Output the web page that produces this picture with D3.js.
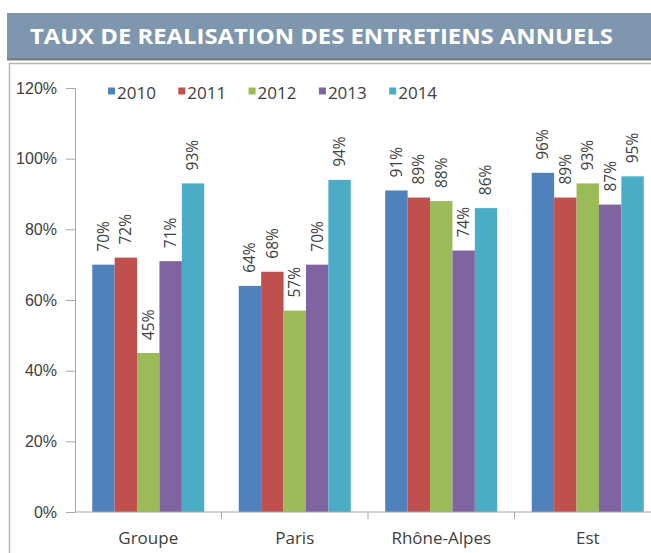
<!DOCTYPE html>
<html>
<head>
<meta charset="utf-8">
<script src="https://cdn.jsdelivr.net/npm/d3@7"></script>
<style>
  html, body { margin: 0; padding: 0; background: #fff; }
  svg { display: block; font-family: "Open Sans", sans-serif; }
</style>
</head>
<body>
<svg id="chart" width="651" height="553"></svg>
<script>
const title = "TAUX DE REALISATION DES ENTRETIENS ANNUELS";
const categories = ["Groupe", "Paris", "Rhône-Alpes", "Est"];
const years = ["2010", "2011", "2012", "2013", "2014"];
const colors = ["#4f81bd", "#c0504d", "#9bbb59", "#8064a2", "#4bacc6"];
const values2010 = [0.70, 0.64, 0.91, 0.96];
const values2011 = [0.72, 0.68, 0.89, 0.89];
const values2012 = [0.45, 0.57, 0.88, 0.93];
const values2013 = [0.71, 0.70, 0.74, 0.87];
const values2014 = [0.93, 0.94, 0.86, 0.95];
const yTicks = [0, 0.2, 0.4, 0.6, 0.8, 1.0, 1.2];

const series = [values2010, values2011, values2012, values2013, values2014];
const rows = categories.map((c, i) => ({
  cat: c,
  vals: years.map((y, j) => ({ year: y, color: colors[j], v: series[j][i] }))
}));

const svg = d3.select("#chart");

// Title band
svg.append("rect").attr("x", 7).attr("y", 58).attr("width", 700).attr("height", 2.5).attr("fill", "#7d7d7d");
svg.append("rect").attr("x", 7).attr("y", 13).attr("width", 700).attr("height", 45).attr("fill", "#7f97ae");
svg.append("text").attr("x", 30).attr("y", 43.5)
  .attr("fill", "#ffffff").attr("font-weight", "bold").attr("font-size", 22)
  .attr("textLength", 583).attr("lengthAdjust", "spacingAndGlyphs")
  .text(title);

// Chart frame
svg.append("rect").attr("x", 9.5).attr("y", 63.5).attr("width", 700).attr("height", 600)
  .attr("fill", "#ffffff").attr("stroke", "#b4b4b4").attr("stroke-width", 1.5);

const x0 = d3.scaleBand().domain(categories).range([75, 661]).padding(0);
const x1 = d3.scaleBand().domain(years).range([0, x0.bandwidth()]).paddingInner(0).paddingOuter(0.77);
const y = d3.scaleLinear().domain([0, 1.2]).range([512, 88]);

// Y axis
const yAxis = svg.append("g").attr("transform", "translate(75,0)")
  .call(d3.axisLeft(y).tickValues(yTicks).tickFormat(d3.format(".0%")).tickSize(9).tickPadding(9).tickSizeOuter(0));
yAxis.select(".domain").attr("stroke", "#a6a6a6");
yAxis.selectAll(".tick line").attr("stroke", "#a6a6a6");
yAxis.selectAll(".tick text").attr("fill", "#404040").attr("font-size", 16).attr("font-family", null);

// Bars
const groups = svg.append("g").selectAll("g").data(rows).join("g")
  .attr("transform", d => `translate(${x0(d.cat)},0)`);
groups.selectAll("rect").data(d => d.vals).join("rect")
  .attr("x", d => x1(d.year))
  .attr("y", d => y(d.v))
  .attr("width", x1.bandwidth())
  .attr("height", d => y(0) - y(d.v))
  .attr("fill", d => d.color);

// Value labels (rotated)
groups.selectAll("text").data(d => d.vals).join("text")
  .attr("transform", d => `translate(${x1(d.year) + x1.bandwidth() / 2},${y(d.v) - 13}) rotate(-90)`)
  .attr("dy", "0.35em")
  .attr("text-anchor", "start")
  .attr("fill", "#404040")
  .attr("font-size", 15.5)
  .text(d => d3.format(".0%")(d.v));

// X axis
const xAxis = svg.append("g").attr("transform", "translate(0,512)");
xAxis.append("line").attr("x1", 75).attr("x2", 661).attr("stroke", "#a6a6a6");
xAxis.selectAll("line.tk").data(categories.slice(1)).join("line").attr("class", "tk")
  .attr("x1", d => x0(d)).attr("x2", d => x0(d)).attr("y1", 0).attr("y2", 7).attr("stroke", "#a6a6a6");
xAxis.selectAll("text").data(categories).join("text")
  .attr("x", d => x0(d) + x0.bandwidth() / 2)
  .attr("y", 32)
  .attr("text-anchor", "middle")
  .attr("fill", "#404040")
  .attr("font-size", 17)
  .text(d => d);

// Legend
const legend = svg.append("g").selectAll("g").data(years).join("g")
  .attr("transform", (d, i) => `translate(${108 + i * 70.3},0)`);
legend.append("rect").attr("x", 0).attr("y", 87.5).attr("width", 7).attr("height", 7)
  .attr("fill", (d, i) => colors[i]);
legend.append("text").attr("x", 9).attr("y", 98.5)
  .attr("fill", "#404040").attr("font-size", 17).text(d => d);
</script>
</body>
</html>
